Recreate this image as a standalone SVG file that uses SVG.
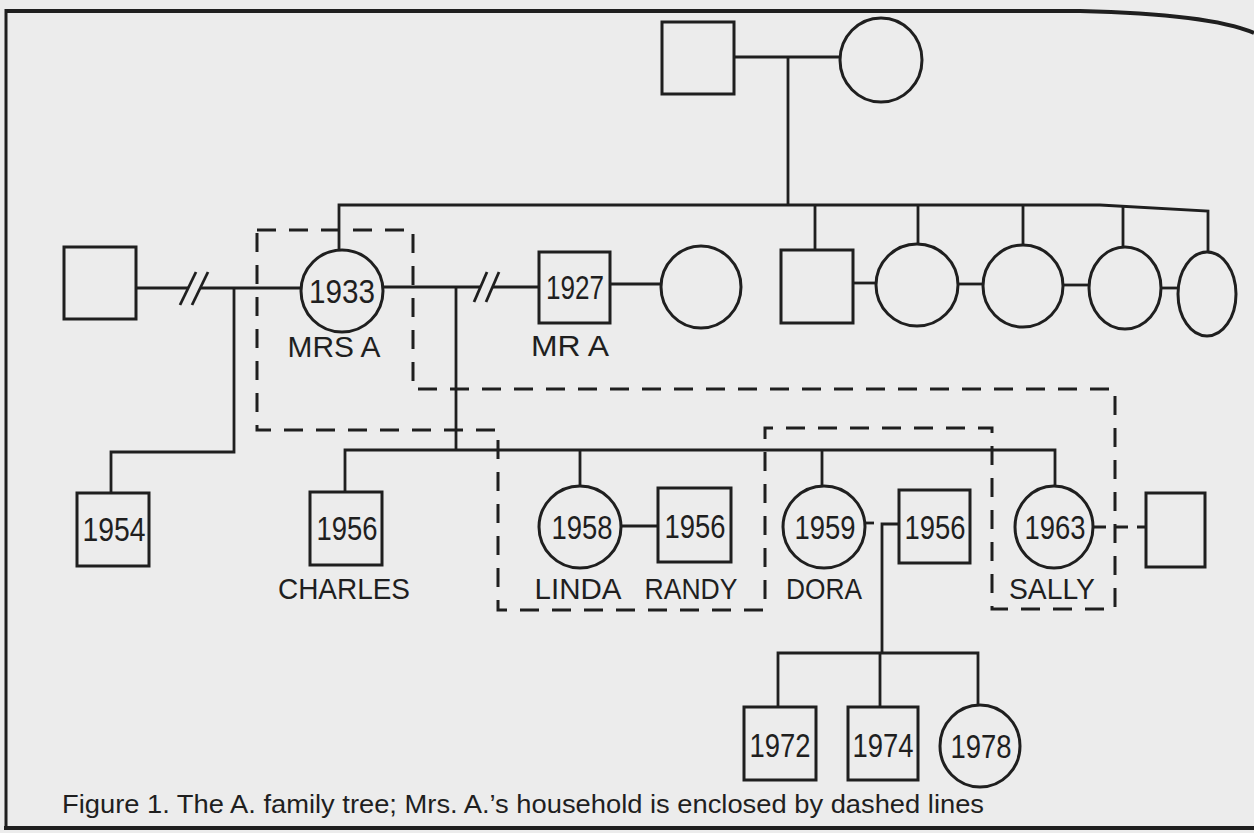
<svg xmlns="http://www.w3.org/2000/svg" width="1254" height="833" viewBox="0 0 1254 833">
<style>
.shape{fill:none;stroke:#1f1f1f;stroke-width:3}
.ln{fill:none;stroke:#1f1f1f;stroke-width:2.8}
.dash{fill:none;stroke:#1f1f1f;stroke-width:3;stroke-dasharray:19 13}
.yr{font-family:"Liberation Sans",Arial,sans-serif;font-size:33px;fill:#1f1f1f;text-anchor:middle}
.lbl{font-family:"Liberation Sans",Arial,sans-serif;font-size:29px;fill:#1f1f1f;text-anchor:middle}
.cap{font-family:"Liberation Sans",Arial,sans-serif;font-size:25px;fill:#1f1f1f}
</style>
<rect x="0" y="0" width="1254" height="833" fill="#ececec"/>
<g id="frame">
<path d="M6,11 L1080,11 Q1210,14 1254,33" fill="none" stroke="#1f1f1f" stroke-width="4"/>
<line x1="6" y1="9" x2="6" y2="830" stroke="#1f1f1f" stroke-width="3"/>
<line x1="4" y1="828" x2="1254" y2="828" stroke="#1f1f1f" stroke-width="4"/>
</g>
<g id="connectors">
<line class="ln" x1="734" y1="57" x2="840" y2="57"/>
<line class="ln" x1="788" y1="57" x2="788" y2="205"/>
<polyline class="ln" points="339,250 339,205 1100,205 1208,211 1208,252"/>
<line class="ln" x1="815" y1="205" x2="815" y2="250"/>
<line class="ln" x1="918" y1="205" x2="918" y2="244"/>
<line class="ln" x1="1023" y1="205" x2="1023" y2="245"/>
<line class="ln" x1="1123" y1="205" x2="1123" y2="247"/>
<line class="ln" x1="853" y1="283" x2="876" y2="283"/>
<line class="ln" x1="958" y1="284" x2="983" y2="284"/>
<line class="ln" x1="1063" y1="285" x2="1089" y2="285"/>
<line class="ln" x1="1161" y1="288" x2="1178" y2="288"/>
<line class="ln" x1="136" y1="288" x2="188" y2="288"/>
<line class="ln" x1="200" y1="288" x2="301" y2="288"/>
<line class="ln" x1="180" y1="305" x2="196" y2="272"/>
<line class="ln" x1="192" y1="305" x2="208" y2="272"/>
<polyline class="ln" points="234,288 234,452 111,452 111,493"/>
<line class="ln" x1="383" y1="287" x2="481" y2="287"/>
<line class="ln" x1="493" y1="287" x2="539" y2="287"/>
<line class="ln" x1="474" y1="302" x2="487" y2="272"/>
<line class="ln" x1="486" y1="302" x2="499" y2="272"/>
<line class="ln" x1="456" y1="287" x2="456" y2="450"/>
<line class="ln" x1="610" y1="284" x2="662" y2="284"/>
<polyline class="ln" points="345,492 345,450 1055,450 1055,487"/>
<line class="ln" x1="580" y1="450" x2="580" y2="486"/>
<line class="ln" x1="822" y1="450" x2="822" y2="487"/>
<line class="ln" x1="621" y1="526" x2="658" y2="526"/>
<line class="ln" x1="865" y1="523" x2="874" y2="523"/>
<polyline class="ln" points="899,524 882,524 882,653"/>
<polyline class="ln" points="778,707 778,653 978,653 978,705"/>
<line class="ln" x1="880" y1="653" x2="880" y2="707"/>
<line class="ln" x1="1093" y1="527" x2="1146" y2="527" stroke-dasharray="13 9"/>
</g>
<g id="household">
<polygon class="dash" points="257,230 413,230 413,389 1115,389 1115,609 992,609 992,428 765,428 765,610 498,610 498,430 257,430"/>
</g>
<g id="grandfather"><rect class="shape" x="662" y="22" width="72" height="72"/></g>
<g id="grandmother"><ellipse class="shape" cx="881" cy="60" rx="41" ry="42"/></g>
<g id="first-husband"><rect class="shape" x="64" y="247" width="72" height="72"/></g>
<g id="mrs-a"><circle class="shape" cx="342" cy="291" r="41"/><text class="yr" x="342" y="303" textLength="66" lengthAdjust="spacingAndGlyphs">1933</text><text class="lbl" x="334" y="357" textLength="93" lengthAdjust="spacingAndGlyphs">MRS A</text></g>
<g id="mr-a"><rect class="shape" x="539" y="252" width="71" height="71"/><text class="yr" x="575" y="299" textLength="58" lengthAdjust="spacingAndGlyphs">1927</text><text class="lbl" x="570" y="356" textLength="78" lengthAdjust="spacingAndGlyphs">MR A</text></g>
<g id="mr-a-wife"><ellipse class="shape" cx="701" cy="287" rx="40" ry="41"/></g>
<g id="sib1"><rect class="shape" x="781" y="250" width="72" height="73"/></g>
<g id="sib2"><ellipse class="shape" cx="917" cy="285" rx="41" ry="41"/></g>
<g id="sib3"><ellipse class="shape" cx="1023" cy="286" rx="40" ry="41"/></g>
<g id="sib4"><ellipse class="shape" cx="1125" cy="288" rx="36" ry="41"/></g>
<g id="sib5"><ellipse class="shape" cx="1207" cy="294" rx="29" ry="42"/></g>
<g id="child-1954"><rect class="shape" x="77" y="493" width="72" height="73"/><text class="yr" x="114" y="541" textLength="63" lengthAdjust="spacingAndGlyphs">1954</text></g>
<g id="charles"><rect class="shape" x="310" y="492" width="72" height="73"/><text class="yr" x="347" y="540" textLength="61" lengthAdjust="spacingAndGlyphs">1956</text><text class="lbl" x="344" y="599" textLength="132" lengthAdjust="spacingAndGlyphs">CHARLES</text></g>
<g id="linda"><circle class="shape" cx="580" cy="527" r="41"/><text class="yr" x="582" y="539" textLength="61" lengthAdjust="spacingAndGlyphs">1958</text><text class="lbl" x="578" y="599" textLength="87" lengthAdjust="spacingAndGlyphs">LINDA</text></g>
<g id="randy"><rect class="shape" x="658" y="488" width="73" height="74"/><text class="yr" x="695" y="538" textLength="61" lengthAdjust="spacingAndGlyphs">1956</text><text class="lbl" x="691" y="599" textLength="93" lengthAdjust="spacingAndGlyphs">RANDY</text></g>
<g id="dora"><circle class="shape" cx="824" cy="527" r="41"/><text class="yr" x="825" y="539" textLength="61" lengthAdjust="spacingAndGlyphs">1959</text><text class="lbl" x="824" y="599" textLength="76" lengthAdjust="spacingAndGlyphs">DORA</text></g>
<g id="dora-husband"><rect class="shape" x="899" y="490" width="71" height="73"/><text class="yr" x="935" y="539" textLength="61" lengthAdjust="spacingAndGlyphs">1956</text></g>
<g id="sally"><ellipse class="shape" cx="1054" cy="527" rx="39" ry="41"/><text class="yr" x="1055" y="539" textLength="61" lengthAdjust="spacingAndGlyphs">1963</text><text class="lbl" x="1052" y="599" textLength="86" lengthAdjust="spacingAndGlyphs">SALLY</text></g>
<g id="sally-partner"><rect class="shape" x="1146" y="493" width="59" height="74"/></g>
<g id="gc-1972"><rect class="shape" x="744" y="707" width="72" height="73"/><text class="yr" x="780" y="757" textLength="61" lengthAdjust="spacingAndGlyphs">1972</text></g>
<g id="gc-1974"><rect class="shape" x="848" y="707" width="70" height="73"/><text class="yr" x="883" y="757" textLength="61" lengthAdjust="spacingAndGlyphs">1974</text></g>
<g id="gc-1978"><ellipse class="shape" cx="980" cy="746" rx="40" ry="41"/><text class="yr" x="981" y="758" textLength="61" lengthAdjust="spacingAndGlyphs">1978</text></g>
<g id="caption"><text class="cap" x="62" y="813" textLength="922" lengthAdjust="spacingAndGlyphs">Figure 1. The A. family tree; Mrs. A.’s household is enclosed by dashed lines</text></g>
</svg>
